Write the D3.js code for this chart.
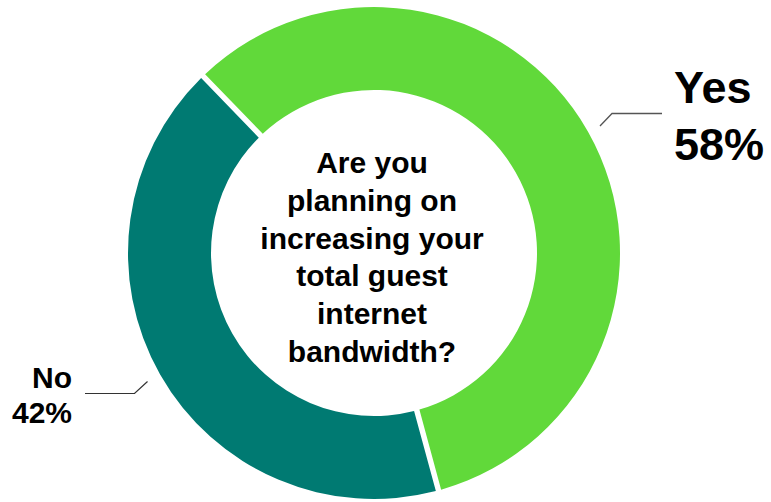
<!DOCTYPE html>
<html>
<head>
<meta charset="utf-8">
<script src="https://cdn.jsdelivr.net/npm/d3@7"></script>
<style>
  html, body { margin: 0; padding: 0; background: #fff; }
  svg { display: block; font-family: "Liberation Sans", Arial, Helvetica, sans-serif; }
</style>
</head>
<body>
<svg id="chart" width="771" height="502"></svg>
<script>
// Survey answers
const categories = ["Yes", "No"];
const values = [58, 42];
const colors = ["#61d93a", "#007a72"];
const questionLines = ["Are you", "planning on", "increasing your", "total guest", "internet", "bandwidth?"];

const svg = d3.select("#chart");
const cx = 374, cy = 253;
const outerR = 246, innerR = 163;

const pie = d3.pie()
  .sort(null)
  .startAngle(-44 * Math.PI / 180)
  .endAngle(316 * Math.PI / 180);

const arc = d3.arc()
  .innerRadius(innerR)
  .outerRadius(outerR)
  .padAngle(5.5 / outerR)
  .padRadius(outerR);

const g = svg.append("g").attr("transform", `translate(${cx},${cy})`);
const arcs = pie(values);

g.selectAll("path.slice")
  .data(arcs)
  .join("path")
  .attr("class", "slice")
  .attr("d", arc)
  .attr("fill", (d, i) => colors[i]);

// Question in the hole
const q = g.append("text")
  .attr("text-anchor", "middle")
  .attr("font-weight", "bold")
  .attr("font-size", 30)
  .attr("fill", "#000");
const lineH = 37.7;
questionLines.forEach((t, i) => {
  q.append("tspan")
    .attr("x", -2)
    .attr("y", -79.7 + i * lineH)
    .text(t);
});

// Callout for "Yes"
svg.append("polyline")
  .attr("points", [[600, 126], [612, 113.5], [662, 113.5]].map(p => p.join(",")).join(" "))
  .attr("fill", "none")
  .attr("stroke", "#555")
  .attr("stroke-width", 1.3);

const yesLabel = svg.append("text")
  .attr("font-weight", "bold")
  .attr("font-size", 45)
  .attr("fill", "#000");
yesLabel.append("tspan").attr("x", 674).attr("y", 103).text(categories[0]);
yesLabel.append("tspan").attr("x", 674).attr("y", 160).text(values[0] + "%");

// Callout for "No"
svg.append("polyline")
  .attr("points", [[85, 393.5], [134.5, 393.5], [147.5, 381.5]].map(p => p.join(",")).join(" "))
  .attr("fill", "none")
  .attr("stroke", "#333")
  .attr("stroke-width", 1.2);

const noLabel = svg.append("text")
  .attr("font-weight", "bold")
  .attr("font-size", 30)
  .attr("text-anchor", "end")
  .attr("fill", "#000");
noLabel.append("tspan").attr("x", 72).attr("y", 388).text(categories[1]);
noLabel.append("tspan").attr("x", 72).attr("y", 423).text(values[1] + "%");
</script>
</body>
</html>
